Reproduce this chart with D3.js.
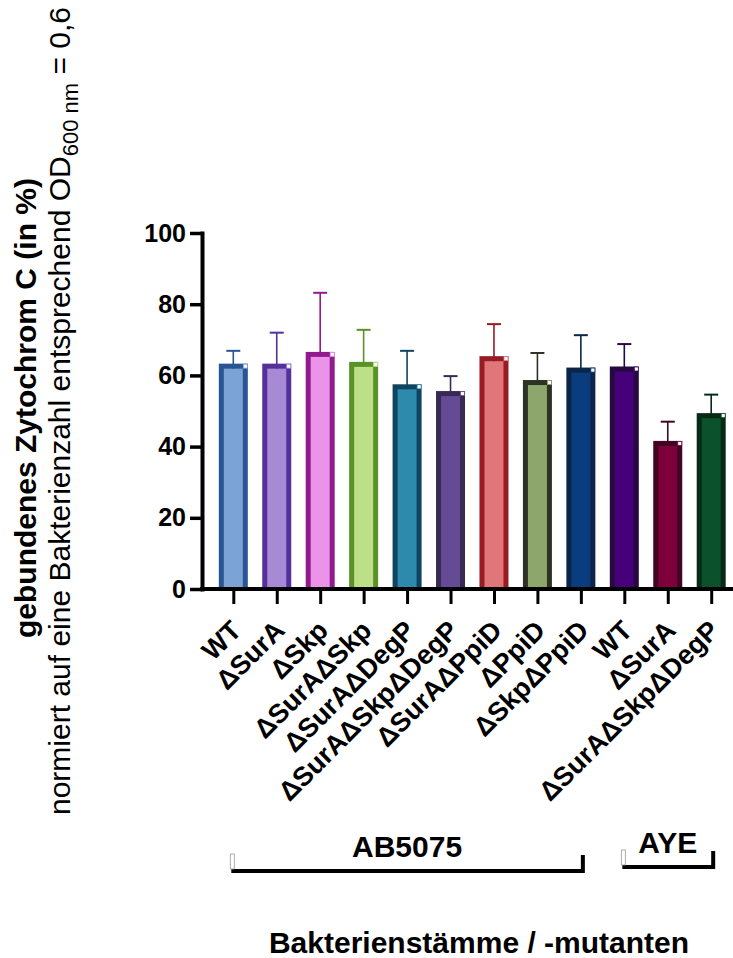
<!DOCTYPE html>
<html>
<head>
<meta charset="utf-8">
<script src="https://cdn.jsdelivr.net/npm/d3@7"></script>
<style>
  html, body { margin: 0; padding: 0; background: #ffffff; }
  svg { display: block; }
  text { font-family: "Liberation Sans", Arial, Helvetica, sans-serif; fill: #000; }
</style>
</head>
<body>
<div id="chart"></div>
<script>
// Bound cytochrome C per strain / mutant (mean and upper SD)
const categories = ["WT", "ΔSurA", "ΔSkp", "ΔSurAΔSkp", "ΔSurAΔDegP", "ΔSurAΔSkpΔDegP",
                    "ΔSurAΔPpiD", "ΔPpiD", "ΔSkpΔPpiD", "WT", "ΔSurA", "ΔSurAΔSkpΔDegP"];
const strains = ["AB5075", "AB5075", "AB5075", "AB5075", "AB5075", "AB5075",
                 "AB5075", "AB5075", "AB5075", "AYE", "AYE", "AYE"];
const means = [63.3, 63.3, 66.6, 63.8, 57.5, 55.6, 65.4, 58.7, 62.2, 62.5, 41.6, 49.4];
const sd    = [3.6, 8.7, 16.6, 9.0, 9.4, 4.2, 9.0, 7.6, 9.1, 6.3, 5.4, 5.2];
const fillColors = ["#7ba3d6", "#a68ad4", "#eb93e8", "#bcdf87", "#2d8aad", "#654a96",
                    "#e0757a", "#8ca66c", "#0a3d7e", "#45007a", "#7d003a", "#0b512b"];
const edgeColors = ["#2a5595", "#56309a", "#921a8f", "#5a9228", "#0f4460", "#372a53",
                    "#961b22", "#2d3323", "#0b2548", "#250a40", "#3f0522", "#062a15"];
const yTicks = [0, 20, 40, 60, 80, 100];

const W = 733, H = 958;
const svg = d3.select("#chart").append("svg").attr("width", W).attr("height", H);

const idx = categories.map((_, i) => i);
const x = d3.scalePoint().domain(idx).range([233.3, 711.2]);
const y = d3.scaleLinear().domain([0, 100]).range([589, 233]);
const barW = 29, edge = 5;

// Bars: dark frame with lighter fill
const bars = svg.append("g").selectAll("g").data(idx).join("g");
bars.append("rect")
  .attr("x", i => x(i) - barW / 2)
  .attr("y", i => y(means[i]))
  .attr("width", barW)
  .attr("height", i => y(0) - y(means[i]))
  .attr("fill", i => edgeColors[i]);
bars.append("rect")
  .attr("x", i => x(i) - barW / 2 + edge)
  .attr("y", i => y(means[i]) + edge)
  .attr("width", barW - 2 * edge)
  .attr("height", i => y(0) - y(means[i]) - edge)
  .attr("fill", i => fillColors[i]);
bars.append("rect")
  .attr("x", i => x(i) + barW / 2 - edge + 0.5)
  .attr("y", i => y(means[i]) + 0.5)
  .attr("width", edge - 1)
  .attr("height", edge - 1)
  .attr("fill", "#ffffff")
  .attr("stroke", i => fillColors[i])
  .attr("stroke-width", 0.8);

// Upper error bars
const err = svg.append("g").selectAll("g").data(idx).join("g")
  .attr("stroke", i => edgeColors[i]);
err.append("line")
  .attr("x1", i => x(i)).attr("x2", i => x(i))
  .attr("y1", i => y(means[i]) + edge)
  .attr("y2", i => y(means[i] + sd[i]))
  .attr("stroke-width", 1.6);
err.append("line")
  .attr("x1", i => x(i) - 7).attr("x2", i => x(i) + 7)
  .attr("y1", i => y(means[i] + sd[i]))
  .attr("y2", i => y(means[i] + sd[i]))
  .attr("stroke-width", 2);

// Y axis
const yAxis = svg.append("g").attr("transform", "translate(202,0)")
  .call(d3.axisLeft(y).tickValues(yTicks).tickSize(12).tickSizeOuter(0).tickPadding(4));
yAxis.select(".domain").attr("stroke", "#000").attr("stroke-width", 4).attr("stroke-linecap", "square");
yAxis.selectAll(".tick line").attr("stroke", "#000").attr("stroke-width", 3.5);
yAxis.selectAll(".tick text")
  .attr("font-size", 25).attr("font-weight", "bold")
  .attr("font-family", "'Liberation Sans', Arial, sans-serif").attr("fill", "#000");

// X axis
const xAxis = svg.append("g").attr("transform", `translate(0,${y(0)})`)
  .call(d3.axisBottom(x).tickSize(15).tickFormat(""));
xAxis.select(".domain").remove();
xAxis.selectAll(".tick line").attr("stroke", "#000").attr("stroke-width", 3);
svg.append("line")
  .attr("x1", 200).attr("x2", W).attr("y1", y(0)).attr("y2", y(0))
  .attr("stroke", "#000").attr("stroke-width", 4);

svg.append("g").selectAll("text").data(idx).join("text")
  .attr("transform", i => `translate(${x(i) + 9.5},632) rotate(-45)`)
  .attr("text-anchor", "end")
  .attr("font-size", 27).attr("font-weight", "bold")
  .text(i => categories[i]);

// Strain brackets
const groups = d3.groups(idx, i => strains[i]);
const bracketY = { "AB5075": 871, "AYE": 867 };
groups.forEach(([name, members]) => {
  const x0 = x(members[0]) - 2, x1 = x(members[members.length - 1]) + 2;
  const ly = bracketY[name];
  svg.append("path")
    .attr("d", `M${x0},${ly}H${x1}V${ly - 16}`)
    .attr("fill", "none").attr("stroke", "#000").attr("stroke-width", 4);
  svg.append("rect")
    .attr("x", x0 - 1).attr("y", ly - 17).attr("width", 4).attr("height", 15)
    .attr("fill", "#fff").attr("stroke", "#9a9a9a").attr("stroke-width", 0.8);
  svg.append("text")
    .attr("x", (x0 + x1) / 2).attr("y", ly - 14)
    .attr("text-anchor", "middle")
    .attr("font-size", 30).attr("font-weight", "bold")
    .text(name);
});

// X title
svg.append("text")
  .attr("x", 479).attr("y", 953)
  .attr("text-anchor", "middle")
  .attr("font-size", 30).attr("font-weight", "bold")
  .text("Bakterienstämme / -mutanten");

// Y titles
svg.append("text")
  .attr("transform", "translate(36,408) rotate(-90)")
  .attr("text-anchor", "middle")
  .attr("font-size", 30).attr("font-weight", "bold")
  .text("gebundenes Zytochrom C (in %)");

const sub = svg.append("text")
  .attr("transform", "translate(70,411) rotate(-90)")
  .attr("text-anchor", "middle")
  .attr("font-size", 30);
sub.append("tspan").text("normiert auf eine Bakterienzahl entsprechend OD");
sub.append("tspan").attr("font-size", 22).attr("dy", 8).text("600 nm");
sub.append("tspan").attr("dy", -8).attr("xml:space", "preserve").text(" = 0,6");
</script>
</body>
</html>
